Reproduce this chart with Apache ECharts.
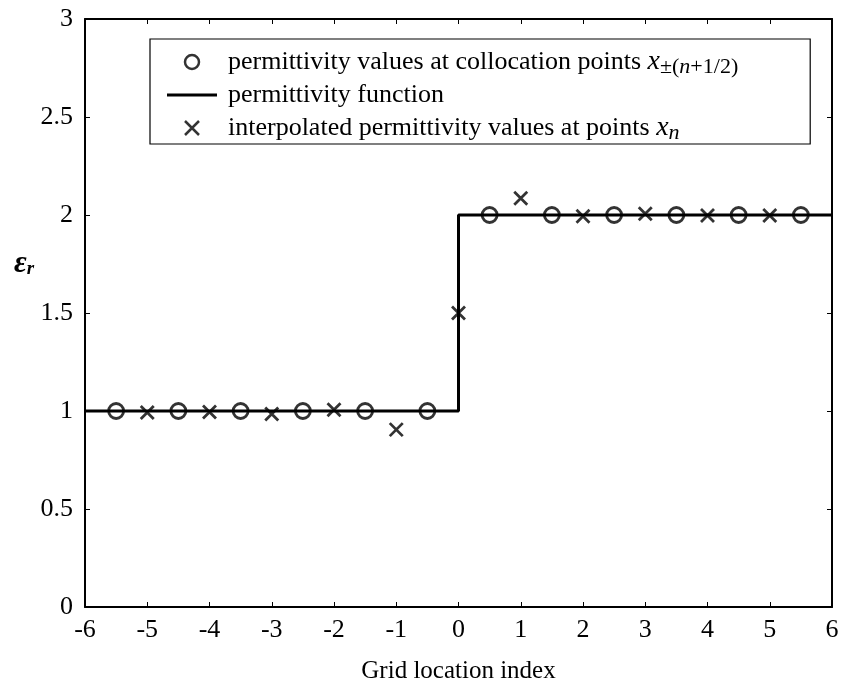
<!DOCTYPE html>
<html>
<head>
<meta charset="utf-8">
<script src="https://cdn.jsdelivr.net/npm/echarts@6/dist/echarts.min.js"></script>
<style>
  html, body { margin: 0; padding: 0; background: #fff; }
  #main { width: 841px; height: 684px; }
</style>
</head>
<body>
<div id="main"></div>
<script>
// 数据
var collocX = [-5.5, -4.5, -3.5, -2.5, -1.5, -0.5, 0.5, 1.5, 2.5, 3.5, 4.5, 5.5];
var collocY = [1, 1, 1, 1, 1, 1, 2, 2, 2, 2, 2, 2];
var stepX = [-6, 0, 0, 6];
var stepY = [1, 1, 2, 2];
var interpX = [-5, -4, -3, -2, -1, 0, 1, 2, 3, 4, 5];
var interpY = [0.992, 0.995, 0.985, 1.006, 0.905, 1.5, 2.085, 1.994, 2.006, 1.998, 1.998];
var xTicks = [-6, -5, -4, -3, -2, -1, 0, 1, 2, 3, 4, 5, 6];
var yTicks = [0, 0.5, 1, 1.5, 2, 2.5, 3];

var names = ['colloc', 'func', 'interp'];
var FONT = '"Liberation Serif", "Times New Roman", serif';
var CROSS = 'path://M0,0L10,10M10,0L0,10';
var BAR = 'path://M0,0L50,0L50,3L0,3Z';

function zip(a, b) {
    return a.map(function (v, i) { return [v, b[i]]; });
}

var myChart = echarts.init(document.getElementById('main'));

var axisCommon = {
    type: 'value',
    axisLine: { show: true, onZero: false, lineStyle: { color: '#000', width: 2 } },
    axisTick: { show: true, inside: true, length: 5, lineStyle: { color: '#000', width: 1 } },
    splitLine: { show: false }
};

myChart.setOption({
    animation: false,
    title: {
        text: '{e|ε}{r|r}',
        left: 9,
        top: 243,
        textStyle: {
            rich: {
                e: { fontFamily: FONT, fontStyle: 'italic', fontSize: 31, color: '#000' },
                r: { fontFamily: FONT, fontStyle: 'italic', fontSize: 19, color: '#000', padding: [12, 0, 0, 0] }
            }
        }
    },
    grid: { left: 85, right: 9, top: 19, bottom: 77, outerBoundsMode: 'none' },
    legend: {
        orient: 'vertical',
        left: 150,
        top: 39,
        padding: [7, 72, 0, 17],
        itemGap: 3,
        itemWidth: 50,
        itemHeight: 14,
        borderColor: '#000',
        borderWidth: 1.2,
        selectedMode: false,
        data: [
            { name: names[0], icon: 'circle', itemStyle: { color: 'none', borderColor: '#000', borderWidth: 2.5 } },
            { name: names[1], icon: BAR, itemStyle: { color: '#000', borderWidth: 0 } },
            { name: names[2], icon: CROSS, itemStyle: { color: 'none', borderColor: '#000', borderWidth: 2.5 } }
        ],
        formatter: function (n) {
            if (n === 'colloc') return 'permittivity values at collocation points {x|x}{s|±(}{si|n}{s|+1/2)}';
            if (n === 'func') return 'permittivity function';
            return 'interpolated permittivity values at points {x|x}{si|n}';
        },
        textStyle: {
            fontFamily: FONT,
            fontSize: 26,
            color: '#000',
            lineHeight: 28,
            padding: [0, 0, 0, 6],
            rich: {
                x: { fontFamily: FONT, fontStyle: 'italic', fontSize: 28, color: '#000', lineHeight: 28 },
                s: { fontFamily: FONT, fontSize: 22, color: '#000', lineHeight: 18, padding: [10, 0, 0, 0] },
                si: { fontFamily: FONT, fontStyle: 'italic', fontSize: 22, color: '#000', lineHeight: 18, padding: [10, 0, 0, 0] }
            }
        }
    },
    xAxis: [
        Object.assign({}, axisCommon, {
            min: -6, max: 6, interval: 1,
            name: 'Grid location index',
            nameLocation: 'middle',
            nameGap: 52,
            nameTextStyle: { fontFamily: FONT, fontSize: 25, color: '#000' },
            axisLabel: { margin: 10, fontFamily: FONT, fontSize: 26, color: '#000' }
        }),
        Object.assign({}, axisCommon, {
            position: 'top', min: -6, max: 6, interval: 1,
            axisLabel: { show: false }
        })
    ],
    yAxis: [
        Object.assign({}, axisCommon, {
            min: 0, max: 3, interval: 0.5,
            axisLabel: { margin: 12, fontFamily: FONT, fontSize: 26, color: '#000' }
        }),
        Object.assign({}, axisCommon, {
            position: 'right', min: 0, max: 3, interval: 0.5,
            axisLabel: { show: false }
        })
    ],
    series: [
        {
            name: names[0],
            type: 'scatter',
            data: zip(collocX, collocY),
            symbol: 'circle',
            symbolSize: 15,
            z: 4,
            itemStyle: { color: 'none', borderColor: '#000', borderWidth: 2.8 },
            emphasis: { disabled: true }
        },
        {
            name: names[1],
            type: 'line',
            data: zip(stepX, stepY),
            symbol: 'none',
            z: 3,
            lineStyle: { color: '#000', width: 3 },
            itemStyle: { color: '#000' },
            emphasis: { disabled: true }
        },
        {
            name: names[2],
            type: 'scatter',
            data: zip(interpX, interpY),
            symbol: CROSS,
            symbolSize: 13,
            z: 4,
            itemStyle: { color: 'none', borderColor: '#000', borderWidth: 2.8 },
            emphasis: { disabled: true }
        }
    ]
});
</script>
</body>
</html>
